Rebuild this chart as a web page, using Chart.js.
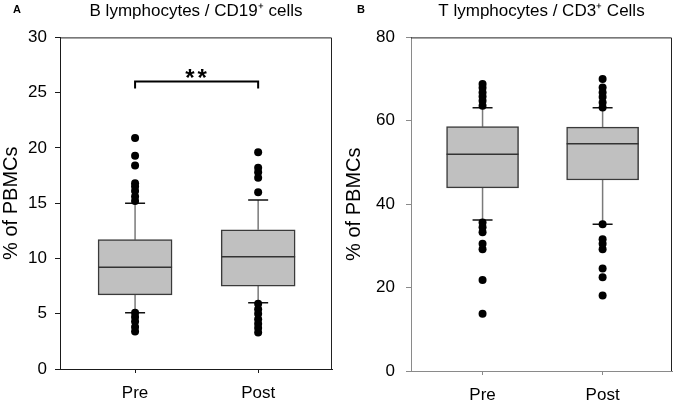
<!DOCTYPE html>
<html>
<head>
<meta charset="utf-8">
<script src="https://cdn.jsdelivr.net/npm/chart.js@4.4.0/dist/chart.umd.min.js"></script>
<style>
  body { margin: 0; background: #fff; }
  #wrap { position: relative; width: 676px; height: 401px; }
  canvas { position: absolute; top: 0; }
</style>
</head>
<body>
<div id="wrap">
  <canvas id="chartA" width="340" height="401" style="left:0"></canvas>
  <canvas id="chartB" width="336" height="401" style="left:340px"></canvas>
</div>
<script>
const groups = ["Pre", "Post"];

// Panel A - B lymphocytes / CD19+ cells
const cd19Low = [5.1, 6.0];
const cd19Q1 = [6.7, 7.5];
const cd19Median = [9.2, 10.15];
const cd19Q3 = [11.7, 12.6];
const cd19High = [15.0, 15.3];
const cd19PreOutliers = [20.9, 19.3, 18.4, 16.8, 16.5, 16.1, 15.6, 15.2, 5.1, 4.7, 4.3, 3.8, 3.4];
const cd19PostOutliers = [19.6, 18.2, 17.8, 17.3, 16.0, 5.9, 5.4, 5.0, 4.5, 4.1, 3.7, 3.3];
const cd19Ticks = [0, 5, 10, 15, 20, 25, 30];
const cd19Sig = { level: 26, label: "**" };

// Panel B - T lymphocytes / CD3+ cells
const cd3Low = [36.2, 35.2];
const cd3Q1 = [43.9, 45.8];
const cd3Median = [52.0, 54.5];
const cd3Q3 = [58.6, 58.5];
const cd3High = [63.1, 63.1];
const cd3PreOutliers = [68.8, 67.9, 66.8, 65.8, 64.8, 63.6, 35.6, 34.5, 33.3, 30.5, 29.2, 21.8, 13.7];
const cd3PostOutliers = [70.0, 68.0, 66.8, 65.7, 64.4, 63.2, 35.2, 31.6, 30.5, 29.2, 24.6, 22.5, 18.1];
const cd3Ticks = [0, 20, 40, 60, 80];

Chart.defaults.font.family = "'Liberation Sans', Arial, sans-serif";
Chart.defaults.color = "#000";

// whiskers, caps, medians, frame and significance bracket drawn with the chart scales
const boxExtras = {
  id: "boxExtras",
  beforeDatasetsDraw(chart, args, opts) {
    const { ctx, scales: { x, y } } = chart;
    ctx.save();
    opts.low.forEach((lo, i) => {
      const px = x.getPixelForValue(i + 1);
      ctx.strokeStyle = "#7a7a7a";
      ctx.lineWidth = 1.5;
      ctx.beginPath();
      ctx.moveTo(px, y.getPixelForValue(opts.q3[i]));
      ctx.lineTo(px, y.getPixelForValue(opts.high[i]));
      ctx.moveTo(px, y.getPixelForValue(opts.q1[i]));
      ctx.lineTo(px, y.getPixelForValue(lo));
      ctx.stroke();
      ctx.strokeStyle = "#111";
      ctx.beginPath();
      [opts.high[i], lo].forEach((v) => {
        ctx.moveTo(px - opts.capWidth / 2, y.getPixelForValue(v));
        ctx.lineTo(px + opts.capWidth / 2, y.getPixelForValue(v));
      });
      ctx.stroke();
    });
    ctx.restore();
  },
  afterDatasetsDraw(chart, args, opts) {
    const { ctx, chartArea: a, scales: { x, y } } = chart;
    ctx.save();
    ctx.strokeStyle = "#333";
    ctx.lineWidth = 1.5;
    opts.median.forEach((m, i) => {
      const px = x.getPixelForValue(i + 1);
      ctx.beginPath();
      ctx.moveTo(px - opts.boxWidth / 2, y.getPixelForValue(m));
      ctx.lineTo(px + opts.boxWidth / 2, y.getPixelForValue(m));
      ctx.stroke();
    });
    // top and right frame
    ctx.strokeStyle = "#222";
    ctx.lineWidth = 1;
    ctx.beginPath();
    ctx.moveTo(a.left, a.top + 0.5);
    ctx.lineTo(a.right - 0.5, a.top + 0.5);
    ctx.lineTo(a.right - 0.5, a.bottom);
    ctx.stroke();
    if (opts.sig) {
      const x1 = x.getPixelForValue(1);
      const x2 = x.getPixelForValue(2);
      const sy = y.getPixelForValue(opts.sig.level);
      ctx.strokeStyle = "#000";
      ctx.lineWidth = 2;
      ctx.beginPath();
      ctx.moveTo(x1, sy + 7);
      ctx.lineTo(x1, sy);
      ctx.lineTo(x2, sy);
      ctx.lineTo(x2, sy + 7);
      ctx.stroke();
      ctx.fillStyle = "#000";
      ctx.font = "bold 24px 'Liberation Sans', Arial, sans-serif";
      ctx.letterSpacing = "3px";
      ctx.textAlign = "center";
      ctx.textBaseline = "alphabetic";
      ctx.fillText(opts.sig.label, (x1 + x2) / 2 + 1, sy + 4);
    }
    // panel letter
    ctx.letterSpacing = "0px";
    ctx.fillStyle = "#000";
    ctx.font = "bold 11px 'Liberation Sans', Arial, sans-serif";
    ctx.textAlign = "left";
    ctx.textBaseline = "middle";
    ctx.fillText(opts.letter, opts.letterX, 10);
    ctx.restore();
  },
};

function makePanel(canvasId, cfg) {
  return new Chart(document.getElementById(canvasId), {
    type: "bar",
    data: {
      datasets: [
        {
          type: "scatter",
          data: [
            ...cfg.preOut.map((v) => ({ x: 1, y: v })),
            ...cfg.postOut.map((v) => ({ x: 2, y: v })),
          ],
          pointRadius: 4,
          pointHoverRadius: 4,
          backgroundColor: "#000",
          borderWidth: 0,
          order: 0,
        },
        {
          data: groups.map((g, i) => ({ x: i + 1, y: [cfg.q1[i], cfg.q3[i]] })),
          backgroundColor: "#c0c0c0",
          borderColor: "#3a3a3a",
          borderWidth: 1.5,
          borderSkipped: false,
          barThickness: cfg.boxWidth,
          order: 1,
        },
      ],
    },
    options: {
      responsive: false,
      animation: false,
      layout: { padding: { left: 0, right: cfg.padRight, top: 0, bottom: 0 } },
      plugins: {
        legend: { display: false },
        tooltip: { enabled: false },
        title: {
          display: true,
          text: cfg.title,
          fullSize: false,
          font: { size: 17, weight: "normal" },
          color: "#000",
          padding: { top: 1, bottom: 16 },
        },
        boxExtras: {
          low: cfg.low, q1: cfg.q1, median: cfg.median, q3: cfg.q3, high: cfg.high,
          boxWidth: cfg.boxWidth, capWidth: 20, sig: cfg.sig,
          letter: cfg.letter, letterX: cfg.letterX,
        },
      },
      scales: {
        x: {
          type: "linear",
          offset: false,
          min: cfg.xMin,
          max: cfg.xMax,
          afterBuildTicks: (s) => { s.ticks = groups.map((g, i) => ({ value: i + 1 })); },
          afterFit: (s) => { s.height = cfg.xHeight; },
          ticks: {
            callback: (v) => groups[v - 1],
            font: { size: 17 },
            color: "#000",
            padding: 10,
            maxRotation: 0,
          },
          grid: { offset: false, drawOnChartArea: false, drawTicks: true, tickLength: 4, color: cfg.axisColor },
          border: { display: true, color: cfg.axisColor, width: 1 },
        },
        y: {
          min: cfg.yTicks[0],
          max: cfg.yTicks[cfg.yTicks.length - 1],
          afterBuildTicks: (s) => { s.ticks = cfg.yTicks.map((v) => ({ value: v })); },
          afterFit: (s) => { s.width = cfg.yWidth; },
          ticks: { font: { size: 17 }, color: "#000", padding: cfg.tickPad },
          grid: { drawOnChartArea: false, drawTicks: true, tickLength: 5, color: cfg.axisColor },
          border: { display: true, color: cfg.axisColor, width: 1 },
          title: {
            display: true,
            text: "% of PBMCs",
            font: { size: 20, lineHeight: 1 },
            color: "#000",
            padding: { top: cfg.titlePad, bottom: 0 },
          },
        },
      },
    },
    plugins: [boxExtras],
  });
}

makePanel("chartA", {
  title: "B lymphocytes / CD19\u207A cells",
  letter: "A", letterX: 13,
  low: cd19Low, q1: cd19Q1, median: cd19Median, q3: cd19Q3, high: cd19High,
  preOut: cd19PreOutliers, postOut: cd19PostOutliers,
  yTicks: cd19Ticks, sig: cd19Sig,
  boxWidth: 74, xMin: 0.39, xMax: 2.6,
  yWidth: 60, xHeight: 32, padRight: 8, tickPad: 8, titlePad: 1,
  axisColor: "#1a1a1a",
});

makePanel("chartB", {
  title: "T lymphocytes / CD3\u207A Cells",
  letter: "B", letterX: 17,
  low: cd3Low, q1: cd3Q1, median: cd3Median, q3: cd3Q3, high: cd3High,
  preOut: cd3PreOutliers, postOut: cd3PostOutliers,
  yTicks: cd3Ticks, sig: null,
  boxWidth: 72, xMin: 0.404, xMax: 2.578,
  yWidth: 71, xHeight: 30, padRight: 3, tickPad: 11, titlePad: 4,
  axisColor: "#8a8a8a",
});
</script>
</body>
</html>
